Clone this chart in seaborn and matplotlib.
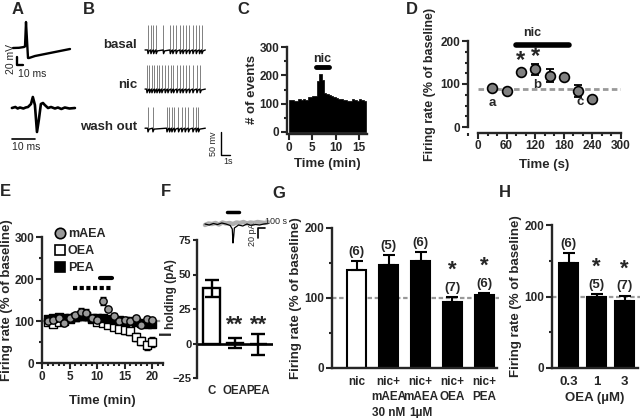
import numpy as np
import pandas as pd
import matplotlib
matplotlib.use("Agg")
import matplotlib.pyplot as plt
import seaborn as sns
from matplotlib.ticker import MultipleLocator
from matplotlib.lines import Line2D

sns.set_style("ticks")
plt.rcParams['font.family'] = ['Liberation Sans', 'DejaVu Sans']
plt.rcParams['font.weight'] = 'bold'
plt.rcParams['axes.labelweight'] = 'bold'
plt.rcParams['mathtext.fontset'] = 'custom'
plt.rcParams['mathtext.rm'] = 'Liberation Sans:bold'
plt.rcParams['mathtext.bf'] = 'Liberation Sans:bold'

# ---- data ----
# A: action potential (ms, mV) and extracellular spike (ms, a.u.)
a_ap_time = [0, 12, 22, 24, 26, 28, 30, 32, 44, 80, 114]
a_ap_mv = [-60, -59.5, -57.5, -56, 5, -40, -85, -85, -80, -71, -62.5]
a_ext_time = [0, 1.5, 2.5, 3.5, 5, 6, 7, 8.3, 9.1, 10, 10.9, 11.7, 12.6, 13.5,
              14.3, 15.7, 17, 18.7, 20, 21.5, 23, 25, 27.4]
a_ext_amp = [0, 1, -0.5, 0.5, -0.5, 0.5, 1, 4, 11, 3, -24, -12, 4, 5,
             3, 0, 1, -0.5, 0.5, -1, 0.5, -0.5, 0]

# B: spike times (s)
b_rows = ["basal", "nic", "wash out"]
b_spikes = [
    [0.3, 0.63, 0.93, 1.22, 2.03, 2.78, 3.07, 3.44, 3.89, 4.19, 4.56, 4.92, 5.3, 5.67, 6.03, 6.3],
    [0.19, 0.48, 0.74, 1.04, 1.3, 1.59, 1.85, 2.22, 2.52, 2.89, 3.15, 3.52, 3.89, 4.19, 4.56, 4.92, 5.3, 5.74, 6.11],
    [0.3, 0.85, 2.41, 2.7, 2.96, 3.26, 3.7, 4.07, 4.44, 4.81, 5.3, 5.67, 5.93],
]
b_amp = [54, 52, 46]

# C: event histogram, 0.5 min bins
c_edges = [i * 0.5 for i in range(34)]
c_counts = [112, 114, 108, 111, 115, 112, 118, 112, 125, 122, 127, 128,
            180, 205, 185, 136, 133, 130, 127, 124, 121, 118, 116, 114,
            112, 110, 108, 115, 112, 110, 117, 113, 110]

# D: firing rate time course
d_time = [30, 60, 90, 120, 150, 180, 210, 240]
d_rate = [91, 84, 129, 134, 119, 116, 84, 64]
d_sem = [3, 3, 4, 12, 15, 4, 14, 3]

# E: time courses
e_time = list(range(1, 21))
e_maea = [100, 103, 108, 95, 108, 115, 122, 120, 108, 103, 148, 128, 112, 100, 102, 100, 106, 90, 104, 102]
e_maea_sem = [3, 3, 3, 3, 4, 5, 10, 8, 5, 5, 10, 5, 6, 4, 5, 5, 6, 5, 5, 5]
e_oea = [97, 93, 98, 100, 104, 110, 114, 112, 104, 97, 96, 90, 85, 82, 78, 76, 62, 52, 42, 50]
e_oea_sem = [3, 3, 3, 3, 4, 4, 6, 6, 5, 4, 5, 6, 7, 8, 9, 10, 10, 10, 10, 12]
e_pea = [104, 107, 110, 106, 106, 110, 112, 111, 108, 107, 108, 104, 103, 102, 100, 100, 98, 95, 94, 93]
e_pea_sem = [2, 2, 2, 2, 2, 2, 3, 3, 2, 2, 2, 2, 2, 2, 2, 2, 2, 2, 2, 2]

# F: holding current
f_groups = ["C", "OEA", "PEA"]
f_means = [40, 0.3, -0.5]
f_sem = [6, 3.8, 7.5]
f_gray_t = list(range(0, 901, 50))
f_gray_pa = [-2, 1, 0, 2, -1, 3, 1, 2, 0, 3, 2, 4, 1, 3, 2, 4, 3, 2, 4]
f_black_t = [0, 60, 120, 180, 240, 300, 360, 390, 400, 410, 420, 440, 480, 540, 600, 660, 720, 780, 840, 900]
f_black_pa = [0, -2, 1, -1, 2, 0, -3, -10, -38, -25, -8, -6, -2, -4, 0, -3, -1, -2, 0, 1]

# G: nicotine with FAAs
g_labels = ["nic", "nic+\nmAEA\n30 nM", "nic+\nmAEA\n1\u00b5M", "nic+\nOEA", "nic+\nPEA"]
g_means = [140, 147, 153, 95, 104]
g_sem = [13, 15, 13, 6, 3]
g_n = ["(6)", "(5)", "(6)", "(7)", "(6)"]
g_star = [False, False, False, True, True]

# H: OEA dose
h_labels = ["0.3", "1", "3"]
h_means = [147, 99, 94]
h_sem = [14, 4, 7]
h_n = ["(6)", "(5)", "(7)"]
h_star = [False, True, True]

W, H = 640, 418
TICK = 8.5
LAB = 9.5
STAR = r"$*$"
fig = plt.figure(figsize=(6.4, 4.18), dpi=100)


def px_axes(x0, y0, x1, y1):
    ax = fig.add_axes([x0 / W, 1 - y1 / H, (x1 - x0) / W, (y1 - y0) / H])
    ax.set_facecolor("none")
    return ax


def prism(ax, fs=TICK):
    sns.despine(ax=ax)
    for s in ["left", "bottom"]:
        ax.spines[s].set_linewidth(1.7)
    ax.tick_params(width=1.5, length=4, labelsize=fs, pad=1.5)
    ax.tick_params(which="minor", width=1.5, length=2.5)


def letter(x, y, s):
    fig.text(x / W, 1 - y / H, s, fontsize=12, fontweight="bold", va="top", ha="left")


# ---- A ----
axA1 = px_axes(5, 15, 80, 85)
axA1.plot(a_ap_time, a_ap_mv, color="black", lw=1.7)
axA1.plot([7.4, 7.4, 19.4], [-82, -102.5, -102.5], color="black", lw=1.7)
axA1.text(-5, -88, "20 mV", rotation=90, fontsize=7.5, ha="center", va="center", fontweight="normal")
axA1.text(10, -112, "10 ms", fontsize=7.5, ha="left", va="top", fontweight="normal")
axA1.set_xlim(-16, 134)
axA1.set_ylim(-152.5, 22.5)
axA1.axis("off")

axA2 = px_axes(5, 85, 80, 155)
axA2.plot(a_ext_time, a_ext_amp, color="black", lw=1.9)
axA2.plot([0, 10], [-31, -31], color="black", lw=1.2)
axA2.text(0, -34, "10 ms", fontsize=7.5, ha="left", va="top", fontweight="normal")
axA2.set_xlim(-3.0, 29.6)
axA2.set_ylim(-47, 23)
axA2.axis("off")

# ---- B ----
axB = px_axes(140, 15, 235, 165)
offsets = [0, -85, -170]
for spikes, amp, off in zip(b_spikes, b_amp, offsets):
    axB.vlines(spikes, off, off + amp, color="#808080", lw=0.7)
    tt, vv = [0], [off]
    for s in spikes:
        tt += [s - 0.02, s + 0.03, s + 0.15]
        vv += [off, off - 8, off - 2]
    tt.append(6.7)
    vv.append(off)
    axB.plot(tt, vv, color="black", lw=1.0)
axB.plot([8.44, 8.44, 9.44], [-178, -228, -228], color="black", lw=1.0)
axB.text(7.6, -203, "50 mv", rotation=90, fontsize=6.5, ha="center", va="center", fontweight="normal")
axB.text(8.7, -232, "1s", fontsize=6.5, ha="left", va="top", fontweight="normal")
axB.set_xlim(-0.56, 10.0)
axB.set_ylim(-250, 76)
axB.axis("off")
for name, py in zip(b_rows, [45, 85, 127]):
    fig.text(137 / W, 1 - py / H, name, fontsize=9.5, fontweight="bold", ha="right", va="center")

# ---- C ----
axC = px_axes(287, 47, 367, 132)
hist_df = pd.DataFrame({"time": [e + 0.25 for e in c_edges[:-1]], "events": c_counts})
sns.histplot(data=hist_df, x="time", weights="events", bins=c_edges, color="black",
             alpha=1, element="step", fill=True, linewidth=0.5, ax=axC)
axC.set_xlim(-0.4, 16.7)
axC.set_ylim(0, 300)
prism(axC)
axC.spines["bottom"].set_position(("outward", 1.5))
axC.xaxis.set_major_locator(MultipleLocator(5))
axC.yaxis.set_major_locator(MultipleLocator(100))
axC.yaxis.set_minor_locator(MultipleLocator(50))
axC.set_ylabel("# of events", fontsize=LAB, labelpad=1)
axC.set_xlabel("Time (min)", fontsize=LAB, labelpad=3)
axC.plot([5.7, 8.5], [230, 230], color="black", lw=3.5, solid_capstyle="round")
axC.text(7.1, 238, "nic", fontsize=9, ha="center", va="bottom")

# ---- D ----
axD = px_axes(468, 41, 621, 127)
axD.hlines(88, 0, 300, colors="#999999", linestyles=(0, (2, 1.2)), lw=2, zorder=1)
axD.errorbar(d_time, d_rate, yerr=d_sem, fmt="none", ecolor="black", elinewidth=1.3,
             capsize=3, capthick=1.3, zorder=2)
sns.scatterplot(x=d_time, y=d_rate, color="#808080", edgecolor="black", linewidth=1.2,
                s=50, zorder=3, ax=axD)
axD.set_xlim(-21, 300)
axD.set_ylim(0, 200)
prism(axD)
axD.spines["left"].set_bounds(0, 200)
axD.spines["bottom"].set_bounds(0, 300)
axD.spines["bottom"].set_position(("outward", 4))
axD.xaxis.set_major_locator(MultipleLocator(60))
axD.xaxis.set_minor_locator(MultipleLocator(20))
axD.yaxis.set_major_locator(MultipleLocator(100))
axD.yaxis.set_minor_locator(MultipleLocator(25))
axD.set_ylabel("Firing rate (% of baseline)", fontsize=9, labelpad=3)
axD.set_xlabel("Time (s)", fontsize=LAB, labelpad=5)
axD.plot([80, 190], [190, 190], color="black", lw=4, solid_capstyle="round", clip_on=False)
axD.text(95, 205, "nic", fontsize=9, ha="left", va="bottom")
axD.text(90, 156, STAR, fontsize=17, ha="center", va="center")
axD.text(120, 167, STAR, fontsize=17, ha="center", va="center")
axD.text(30, 56, "a", fontsize=9.5, ha="center", va="center")
axD.text(124, 98, "b", fontsize=9.5, ha="center", va="center")
axD.text(214, 58, "c", fontsize=9.5, ha="center", va="center")

# ---- E ----
axE = px_axes(42, 237, 163, 363)
axE.hlines(100, 0, 22, colors="#999999", linestyles=(0, (2, 1.2)), lw=1.6, zorder=1)
for vals, sem, fc, mk in [(e_oea, e_oea_sem, "white", "s"),
                          (e_pea, e_pea_sem, "black", "s"),
                          (e_maea, e_maea_sem, "#999999", "o")]:
    axE.errorbar(e_time, vals, yerr=sem, fmt="none", ecolor="black", elinewidth=1,
                 capsize=2.5, capthick=1, zorder=2)
    sns.scatterplot(x=e_time, y=vals, color=fc, edgecolor="black", linewidth=1,
                    marker=mk, s=28, zorder=3, ax=axE, clip_on=False)
axE.set_xlim(0, 22)
axE.set_ylim(0, 300)
prism(axE)
axE.xaxis.set_major_locator(MultipleLocator(5))
axE.xaxis.set_minor_locator(MultipleLocator(1))
axE.yaxis.set_major_locator(MultipleLocator(100))
axE.yaxis.set_minor_locator(MultipleLocator(50))
axE.set_ylabel("Firing rate (% of baseline)", fontsize=LAB, labelpad=1)
axE.set_xlabel("Time (min)", fontsize=LAB, labelpad=9)
axE.plot([5.6, 12.8], [178, 178], color="black", lw=3, ls=(0, (1, 0.6)))
axE.plot([10.5, 12.8], [203, 203], color="black", lw=3)
handles = [Line2D([], [], marker="o", ls="none", mfc="#999999", mec="black", mew=1.2, ms=7.5),
           Line2D([], [], marker="s", ls="none", mfc="white", mec="black", mew=1.2, ms=7),
           Line2D([], [], marker="s", ls="none", mfc="black", mec="black", mew=1.2, ms=7)]
axE.legend(handles, ["mAEA", "OEA", "PEA"], loc="upper left", bbox_to_anchor=(0.1, 1.07),
           frameon=False, fontsize=9, handlelength=1, handletextpad=0.1,
           labelspacing=0.4, borderpad=0, borderaxespad=0)

# ---- F ----
axF = px_axes(197, 240, 273, 378)
sns.barplot(x=f_groups, y=f_means, color="white", edgecolor="black", linewidth=1.7,
            width=0.72, errorbar=None, ax=axF)
axF.errorbar(range(3), f_means, yerr=f_sem, fmt="none", ecolor="black", elinewidth=1.7,
             capsize=5, capthick=1.7)
axF.axhline(0, color="black", lw=1.9)
axF.set_xlim(-0.62, 2.62)
axF.set_ylim(-25, 75)
prism(axF, fs=8)
axF.tick_params(axis="y", length=3, pad=1)
axF.spines["bottom"].set_visible(False)
axF.tick_params(axis="x", length=0, labelsize=8.3, pad=5)
axF.yaxis.set_major_locator(MultipleLocator(25))
axF.set_ylabel("")
axF.set_xlabel("")
fig.text(166 / W, 1 - 333 / H, "I", fontsize=11.5, rotation=90, ha="center", va="center")
fig.text(171 / W, 1 - 294 / H, "holding (pA)", fontsize=8.5, rotation=90, ha="center", va="center")
for i in [1, 2]:
    axF.text(i, 13, "**", fontsize=16, ha="center", va="center")

axI = px_axes(200, 206, 285, 250)
axI.plot(f_gray_t, f_gray_pa, color="#b0b0b0", lw=3.2)
axI.plot(f_black_t, f_black_pa, color="black", lw=0.9)
axI.plot([314, 486], [24, 24], color="black", lw=2.5)
axI.plot([857, 757, 757], [-8, -8, -28], color="black", lw=1.2)
axI.text(860, -4, "100 s", fontsize=6.5, ha="left", va="bottom", fontweight="normal")
axI.text(680, -20, "20 pA", rotation=90, fontsize=6.5, ha="center", va="center", fontweight="normal")
axI.set_xlim(-71, 1143)
axI.set_ylim(-52, 36)
axI.axis("off")

# ---- G ----
axG = px_axes(332, 228, 497, 368)
axG.hlines(100, -0.78, 4.45, colors="#999999", linestyles=(0, (2, 1.2)), lw=1.6, zorder=0, clip_on=False)
sns.barplot(x=g_labels, y=g_means, hue=g_labels, palette=["white", "black", "black", "black", "black"],
            edgecolor="black", linewidth=1.5, width=0.6, errorbar=None, legend=False, ax=axG)
axG.errorbar(range(5), g_means, yerr=[[0] * 5, g_sem], fmt="none", ecolor="black",
             elinewidth=1.5, capsize=4, capthick=1.5)
axG.set_xlim(-0.78, 4.4)
axG.set_ylim(0, 200)
prism(axG)
axG.tick_params(axis="x", length=0, labelsize=8.5, pad=6)
for lab in axG.get_xticklabels():
    lab.set_linespacing(1.35)
    lab.set_va("top")
axG.yaxis.set_major_locator(MultipleLocator(100))
axG.yaxis.set_minor_locator(MultipleLocator(50))
axG.set_ylabel("Firing rate (% of baseline)", fontsize=LAB, labelpad=2)
axG.set_xlabel("")
for i in range(5):
    top = g_means[i] + g_sem[i]
    axG.text(i, top + 13, g_n[i], fontsize=9.5, ha="center", va="center")
    if g_star[i]:
        axG.text(i, top + 24.5, STAR, fontsize=16, ha="center", va="bottom")

# ---- H ----
axH = px_axes(552, 225, 638, 368)
axH.hlines(100, -0.59, 2.55, colors="#999999", linestyles=(0, (2, 1.2)), lw=1.6, zorder=0, clip_on=False)
sns.barplot(x=h_labels, y=h_means, color="black", edgecolor="black", linewidth=1.5,
            width=0.7, errorbar=None, ax=axH)
axH.errorbar(range(3), h_means, yerr=[[0] * 3, h_sem], fmt="none", ecolor="black",
             elinewidth=1.5, capsize=4, capthick=1.5)
axH.set_xlim(-0.59, 2.48)
axH.set_ylim(0, 200)
prism(axH)
axH.tick_params(axis="x", length=0, labelsize=9.5, pad=6)
axH.yaxis.set_major_locator(MultipleLocator(100))
axH.yaxis.set_minor_locator(MultipleLocator(50))
axH.set_ylabel("Firing rate (% of baseline)", fontsize=LAB, labelpad=2)
axH.set_xlabel("OEA (\u00b5M)", fontsize=LAB, labelpad=3)
for i in range(3):
    top = h_means[i] + h_sem[i]
    axH.text(i, top + 13, h_n[i], fontsize=9.5, ha="center", va="center")
    if h_star[i]:
        axH.text(i, top + 24, STAR, fontsize=16, ha="center", va="bottom")

# panel letters
letter(12, 2, "A")
letter(83, 2, "B")
letter(237, 2, "C")
letter(406, 2, "D")
letter(0, 184, "E")
letter(161, 184, "F")
letter(272, 186, "G")
letter(499, 185, "H")

fig.savefig("out.png", dpi=100)
